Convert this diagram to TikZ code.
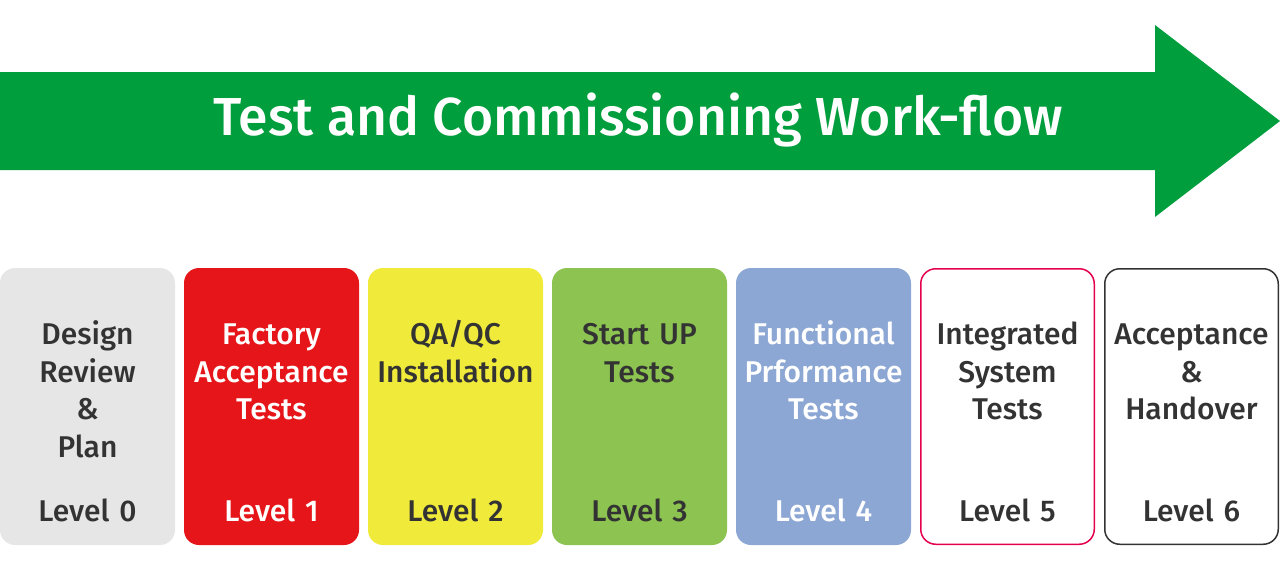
\documentclass[tikz,border=0pt]{standalone}
\usepackage{fontspec}
\setmainfont{Fira Sans}[BoldFont={Fira Sans Medium}]
\usepackage{xcolor}
\usepackage{tikz}
\usetikzlibrary{positioning}
\definecolor{flowgreen}{HTML}{009E3D}
\definecolor{darktext}{HTML}{333333}
\definecolor{lvgrey}{HTML}{E6E6E6}
\definecolor{lvred}{HTML}{E51519}
\definecolor{lvyellow}{HTML}{F0EA3A}
\definecolor{lvgreen}{HTML}{8CC351}
\definecolor{lvblue}{HTML}{8DA7D4}
\definecolor{lvrose}{HTML}{E5004F}

\begin{document}
\begin{tikzpicture}[x=1pt, y=-1pt,
    levelbox/.style={rounded corners=15pt, minimum width=175pt,
                     minimum height=277pt, inner sep=0pt, outer sep=0pt},
    boxtext/.style={text width=175pt, align=center, inner sep=0pt,
                    anchor=base, text=darktext,
                    font=\fontsize{30}{37.5}\selectfont\bfseries},
    node distance=9pt]
    \useasboundingbox (0,0) rectangle (1280,570);
    \fill[flowgreen] (0,72) -- (1155,72) -- (1155,25) -- (1280,121)
        -- (1155,217) -- (1155,170) -- (0,170) -- cycle;
    \node[text=white, font=\fontsize{53.5}{60}\selectfont\bfseries]
        (title) at (638,120) {Test and Commissioning Work-flow};

    \node[levelbox, fill=lvgrey] (lv0) at (87.5,406.5) {};
    \node[levelbox, fill=lvred, right=of lv0] (lv1) {};
    \node[levelbox, fill=lvyellow, right=of lv1] (lv2) {};
    \node[levelbox, fill=lvgreen, right=of lv2] (lv3) {};
    \node[levelbox, fill=lvblue, right=of lv3] (lv4) {};
    \node[levelbox, draw=lvrose, line width=1.5pt, fill=white,
          minimum width=173.5pt, minimum height=275.5pt, right=9.75pt of lv4] (lv5) {};
    \node[levelbox, draw=darktext, line width=1.5pt, fill=white,
          minimum width=173.5pt, minimum height=275.5pt, right=10.5pt of lv5] (lv6) {};

    \node[boxtext] (name0) at ([yshift=-76.5pt]lv0.north) {Design\\Review\\\&\\Plan};
    \node[boxtext, text=white] (name1) at ([yshift=-76.5pt]lv1.north) {Factory\\Acceptance\\Tests};
    \node[boxtext] (name2) at ([yshift=-76.5pt]lv2.north) {QA/QC\\Installation};
    \node[boxtext] (name3) at ([yshift=-76.5pt]lv3.north) {Start UP\\Tests};
    \node[boxtext, text=white] (name4) at ([yshift=-76.5pt]lv4.north) {Functional\\Prformance\\Tests};
    \node[boxtext] (name5) at ([yshift=-75.75pt]lv5.north) {Integrated\\System\\Tests};
    \node[boxtext] (name6) at ([yshift=-75.75pt]lv6.north) {Acceptance\\\&\\Handover};

    \node[boxtext] (level0) at ([yshift=24pt]lv0.south) {Level 0};
    \node[boxtext, text=white] (level1) at ([yshift=24pt]lv1.south) {Level 1};
    \node[boxtext] (level2) at ([yshift=24pt]lv2.south) {Level 2};
    \node[boxtext] (level3) at ([yshift=24pt]lv3.south) {Level 3};
    \node[boxtext, text=white] (level4) at ([yshift=24pt]lv4.south) {Level 4};
    \node[boxtext] (level5) at ([yshift=23.25pt]lv5.south) {Level 5};
    \node[boxtext] (level6) at ([yshift=23.25pt]lv6.south) {Level 6};
\end{tikzpicture}
\end{document}
